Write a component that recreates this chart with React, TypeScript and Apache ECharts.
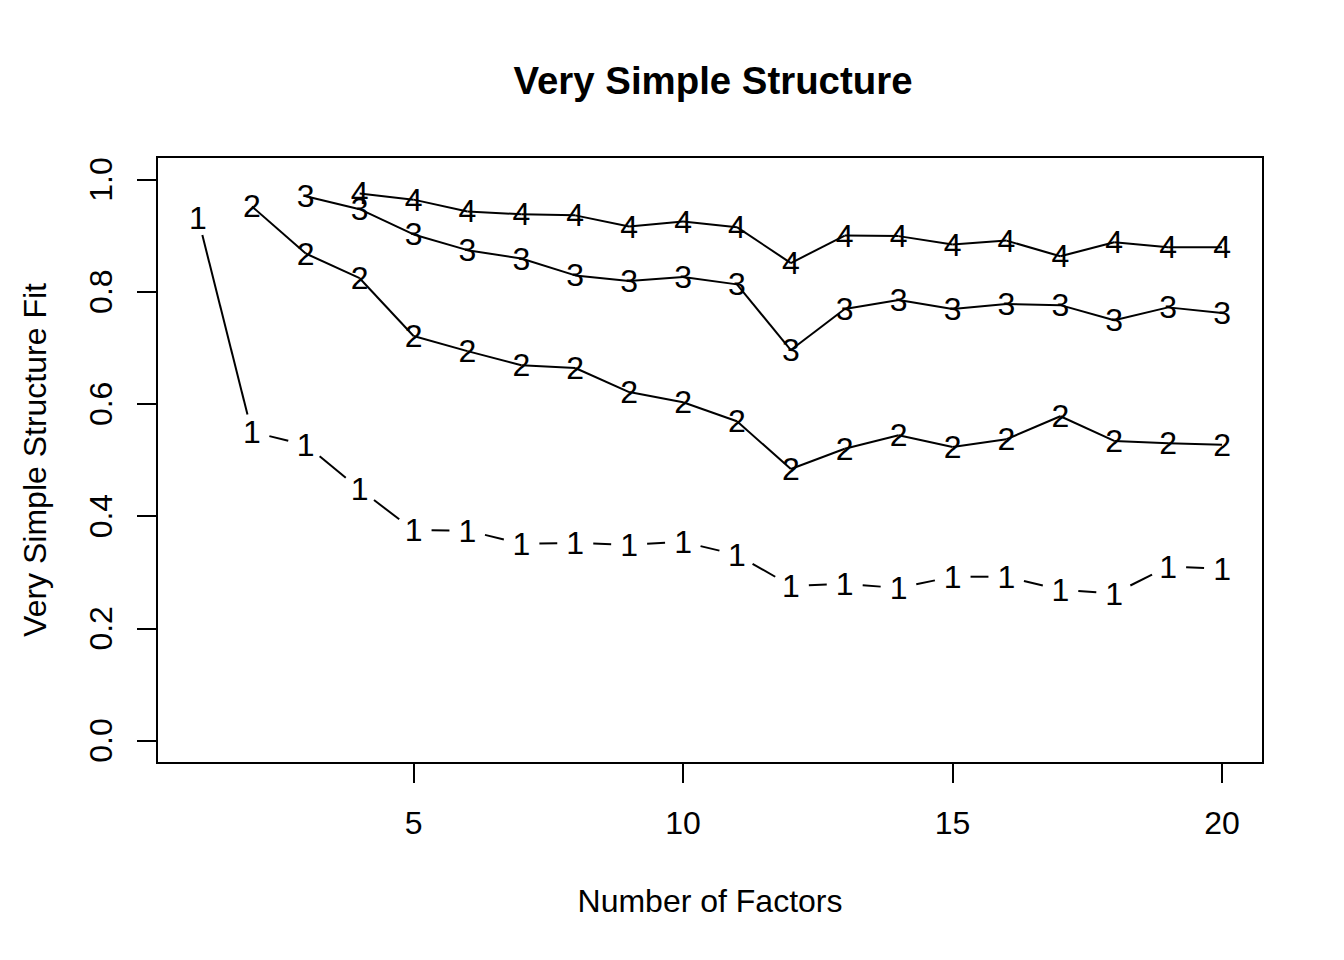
import React, { useEffect, useRef } from "react";
import * as echarts from "echarts";

const factors = [1, 2, 3, 4, 5, 6, 7, 8, 9, 10, 11, 12, 13, 14, 15, 16, 17, 18, 19, 20];
const cfit1 = [0.932, 0.55, 0.527, 0.448, 0.375, 0.374, 0.351, 0.352, 0.349, 0.354, 0.331, 0.276, 0.279, 0.272, 0.292, 0.292, 0.269, 0.262, 0.31, 0.306];
const cfit2 = [null, 0.952, 0.868, 0.824, 0.721, 0.694, 0.669, 0.664, 0.621, 0.603, 0.569, 0.484, 0.52, 0.544, 0.523, 0.537, 0.578, 0.534, 0.53, 0.527];
const cfit3 = [null, null, 0.97, 0.947, 0.902, 0.874, 0.859, 0.829, 0.819, 0.826, 0.813, 0.696, 0.769, 0.785, 0.769, 0.778, 0.776, 0.749, 0.772, 0.762];
const cfit4 = [null, null, null, 0.975, 0.964, 0.943, 0.938, 0.936, 0.916, 0.925, 0.915, 0.851, 0.9, 0.899, 0.884, 0.891, 0.863, 0.888, 0.879, 0.879];
const xTicks = [5, 10, 15, 20];
const yTicks = [0, 0.2, 0.4, 0.6, 0.8, 1.0];

const FONT = '"Liberation Sans", Arial, Helvetica, sans-serif';

function makeSeries(label: string, values: (number | null)[], gap: number) {
  const data: number[][] = [];
  values.forEach((v, i) => {
    if (v !== null) data.push([factors[i], v]);
  });
  return {
    type: "custom",
    name: "cfit." + label,
    data,
    clip: false,
    renderItem: (params: any, api: any) => {
      const i = params.dataIndex;
      const p = api.coord([api.value(0), api.value(1)]);
      const children: any[] = [];
      if (i < data.length - 1) {
        const q = api.coord(data[i + 1]);
        const dx = q[0] - p[0];
        const dy = q[1] - p[1];
        const len = Math.hypot(dx, dy);
        if (len > 2 * gap) {
          const ux = dx / len;
          const uy = dy / len;
          children.push({
            type: "line",
            shape: { x1: p[0] + ux * gap, y1: p[1] + uy * gap, x2: q[0] - ux * gap, y2: q[1] - uy * gap },
            style: { stroke: "#000", lineWidth: 2 },
          });
        }
      }
      children.push({
        type: "text",
        x: p[0],
        y: p[1],
        z2: 10,
        style: {
          text: label,
          fill: "#000",
          fontSize: 32,
          fontFamily: FONT,
          align: "center",
          verticalAlign: "middle",
        },
      });
      return { type: "group", children };
    },
  };
}

export default function App() {
  const ref = useRef<HTMLDivElement>(null);
  useEffect(() => {
    if (!ref.current) return;
    const chart = echarts.init(ref.current, null, { renderer: "svg" });
    chart.setOption({
      animation: false,
      backgroundColor: "#fff",
      title: {
        text: "Very Simple Structure",
        left: 708,
        top: 56,
        textAlign: "center",
        textStyle: { fontSize: 38.4, fontWeight: "bold", fontFamily: FONT, color: "#000" },
      },
      grid: {
        left: 157,
        top: 157,
        right: 81,
        bottom: 197,
        show: true,
        borderColor: "#000",
        borderWidth: 2,
        backgroundColor: "transparent",
      },
      xAxis: {
        type: "value",
        min: 0.24,
        max: 20.76,
        name: "Number of Factors",
        nameLocation: "middle",
        nameGap: 122,
        nameTextStyle: { fontSize: 32, fontFamily: FONT, color: "#000" },
        axisLine: { show: false, onZero: false },
        splitLine: { show: false },
        axisTick: { show: true, inside: false, length: 20, customValues: xTicks, lineStyle: { color: "#000", width: 2 } },
        axisLabel: { customValues: xTicks, fontSize: 32, fontFamily: FONT, color: "#000", margin: 44 },
      },
      yAxis: {
        type: "value",
        min: -0.04,
        max: 1.04,
        name: "Very Simple Structure Fit",
        nameLocation: "middle",
        nameGap: 106,
        nameTextStyle: { fontSize: 32, fontFamily: FONT, color: "#000" },
        axisLine: { show: false, onZero: false },
        splitLine: { show: false },
        axisTick: { show: true, inside: false, length: 20, customValues: yTicks, lineStyle: { color: "#000", width: 2 } },
        axisLabel: {
          customValues: yTicks,
          rotate: 90,
          fontSize: 32,
          fontFamily: FONT,
          color: "#000",
          margin: 40,
          formatter: (v: number) => v.toFixed(1),
        },
      },
      series: [makeSeries("1", cfit1, 18), makeSeries("2", cfit2, 0), makeSeries("3", cfit3, 0), makeSeries("4", cfit4, 0)],
    });
    return () => chart.dispose();
  }, []);
  return <div ref={ref} style={{ position: "fixed", left: 0, top: 0, width: 1344, height: 960 }} />;
}
